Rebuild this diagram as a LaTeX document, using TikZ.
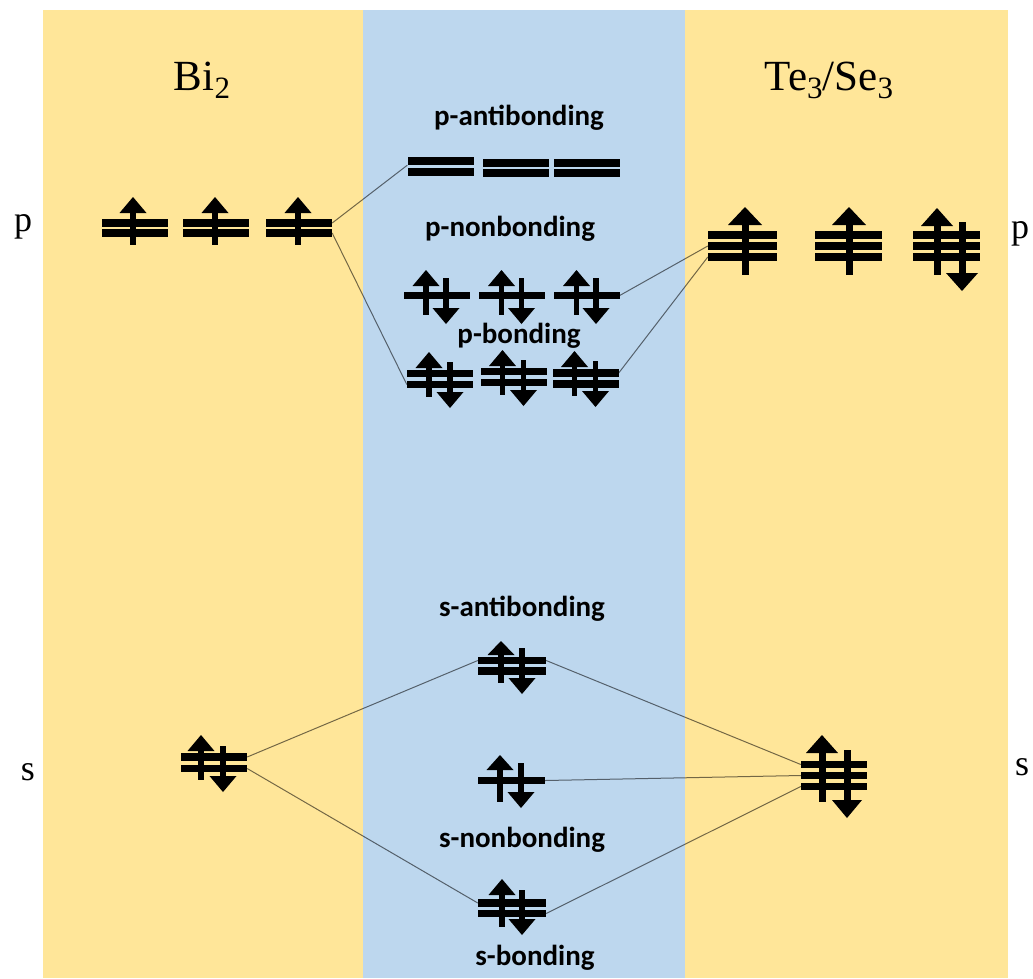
\documentclass[tikz,border=0pt]{standalone}
\usepackage{fontspec}
\setmainfont{Liberation Serif}
\newfontfamily\labelfont{Carlito}
\definecolor{panelyellow}{HTML}{FFE699}
\definecolor{panelblue}{HTML}{BDD7EE}
\newcommand\SubNum[1]{{\fontsize{31}{33}\selectfont\raisebox{-8pt}{#1}}}
\tikzset{
  bar/.style={rectangle, fill=black, draw=none, inner sep=0pt, minimum width=66pt, minimum height=7.5pt},
  mo/.style={font=\labelfont\bfseries\fontsize{29}{34}\selectfont, inner sep=0pt},
  ttl/.style={font=\fontsize{43}{48}\selectfont, inner sep=0pt, anchor=base},
  side/.style={font=\fontsize{36}{42}\selectfont, inner sep=0pt, anchor=base},
  link/.style={draw=black, draw opacity=0.55, line width=1pt}
}
% x, apex y, bottom y, head height, head half width, shaft half width
\newcommand\SpinUp[6]{%
  \fill (#1-#6,#2+#4-0.5) rectangle (#1+#6,#3);
  \fill (#1,#2) -- (#1+#5,#2+#4) -- (#1-#5,#2+#4) -- cycle;}
% x, top y, apex y, head height, head half width, shaft half width
\newcommand\SpinDown[6]{%
  \fill (#1-#6,#2) rectangle (#1+#6,#3-#4+0.5);
  \fill (#1,#3) -- (#1+#5,#3-#4) -- (#1-#5,#3-#4) -- cycle;}
\begin{document}
\begin{tikzpicture}[x=1pt,y=-1pt]
\useasboundingbox (0,0) rectangle (1033,978);
\fill[white] (0,0) rectangle (1033,978);
\fill[panelyellow] (43,10) rectangle (363,978);
\fill[panelblue] (363,10) rectangle (685,978);
\fill[panelyellow] (685,10) rectangle (1008,978);

% titles and side labels
\node[ttl] (bititle) at (202,90) {Bi\SubNum{2}};
\node[ttl] (tetitle) at (829,90) {Te\SubNum{3}/Se\SubNum{3}};
\node[side] (pleft) at (23,231) {p};
\node[side] (pright) at (1020,238) {p};
\node[side] (sleft) at (28,780) {s};
\node[side] (sright) at (1022,775) {s};

% MO labels
\node[mo] (lpab) at (519,118) {p-antibonding};
\node[mo] (lpnb) at (510,229) {p-nonbonding};
\node[mo] (lpb) at (519,336) {p-bonding};
\node[mo] (lsab) at (522,609) {s-antibonding};
\node[mo] (lsnb) at (522,840) {s-nonbonding};
\node[mo] (lsb) at (535,958) {s-bonding};

% ---- Bi2 p ----
\node[bar] (bip1a) at (135,223) {};
\node[bar] (bip1b) at (135,233) {};
\node[bar] (bip2a) at (215.5,223) {};
\node[bar] (bip2b) at (215.5,233) {};
\node[bar] (bip3a) at (299,223) {};
\node[bar] (bip3b) at (299,233) {};
\SpinUp{133}{197}{245}{16}{13.5}{2.7}
\SpinUp{215}{197}{245}{16}{13.5}{2.7}
\SpinUp{298}{197}{245}{16}{13.5}{2.7}

% ---- p-antibonding ----
\node[bar, minimum height=8pt] (pab1a) at (440.5,161) {};
\node[bar, minimum height=8pt] (pab1b) at (440.5,171.5) {};
\node[bar, minimum height=8pt] (pab2a) at (515.5,163) {};
\node[bar, minimum height=8pt] (pab2b) at (515.5,173) {};
\node[bar, minimum height=8pt] (pab3a) at (587,163) {};
\node[bar, minimum height=8pt] (pab3b) at (587,173) {};

% ---- p-nonbonding ----
\node[bar] (pn1) at (436.5,295.5) {};
\node[bar] (pn2) at (511.5,295.5) {};
\node[bar] (pn3) at (586.5,295.5) {};
\SpinUp{426}{270}{315}{16}{13.5}{2.7}
\SpinDown{446}{278}{324}{16}{13.5}{2.7}
\SpinUp{501.5}{270}{315}{16}{13.5}{2.7}
\SpinDown{521.5}{278}{324}{16}{13.5}{2.7}
\SpinUp{576.5}{270}{315}{16}{13.5}{2.7}
\SpinDown{596}{278}{324}{16}{13.5}{2.7}

% ---- p-bonding ----
\node[bar] (pb1a) at (440,373.5) {};
\node[bar] (pb1b) at (440,384.5) {};
\node[bar] (pb2a) at (513.5,371.5) {};
\node[bar] (pb2b) at (513.5,382.5) {};
\node[bar] (pb3a) at (585.5,373) {};
\node[bar] (pb3b) at (585.5,384) {};
\SpinUp{429}{352}{397}{16}{13.5}{2.7}
\SpinDown{450}{362}{408}{16}{13.5}{2.7}
\SpinUp{502.5}{350}{395}{16}{13.5}{2.7}
\SpinDown{523.5}{360}{406}{16}{13.5}{2.7}
\SpinUp{574.5}{351}{396}{16}{13.5}{2.7}
\SpinDown{595.5}{361}{407}{16}{13.5}{2.7}

% ---- Te3/Se3 p ----
\node[bar, minimum width=69pt] (tp1a) at (742.5,235) {};
\node[bar, minimum width=69pt] (tp1b) at (742.5,246) {};
\node[bar, minimum width=69pt] (tp1c) at (742.5,257) {};
\node[bar, minimum width=67pt] (tp2a) at (848.5,235) {};
\node[bar, minimum width=67pt] (tp2b) at (848.5,246) {};
\node[bar, minimum width=67pt] (tp2c) at (848.5,257) {};
\node[bar, minimum width=67pt] (tp3a) at (946.5,235) {};
\node[bar, minimum width=67pt] (tp3b) at (946.5,246) {};
\node[bar, minimum width=67pt] (tp3c) at (946.5,257) {};
\SpinUp{745}{207}{275}{18}{17}{3.5}
\SpinUp{849}{207}{275}{18}{17}{3.5}
\SpinUp{937}{208}{275}{18}{16}{3.5}
\SpinDown{962}{222}{291}{18}{16}{3.5}

% ---- Bi2 s ----
\node[bar] (bisa) at (214,757) {};
\node[bar] (bisb) at (214,768.5) {};
\SpinUp{201}{735}{780}{16}{13.5}{2.7}
\SpinDown{223}{746}{792}{16}{13.5}{2.7}

% ---- s-antibonding ----
\node[bar, minimum width=68pt] (saba) at (512,660.5) {};
\node[bar, minimum width=68pt] (sabb) at (512,671) {};
\SpinUp{501}{641}{683}{14}{13.5}{2.7}
\SpinDown{522}{648}{694}{16}{13.5}{2.7}

% ---- s-nonbonding ----
\node[bar, minimum width=67pt] (snb) at (511.5,780.5) {};
\SpinUp{500}{755}{802}{15}{13.5}{2.7}
\SpinDown{521}{763}{808}{16}{13.5}{2.7}

% ---- s-bonding ----
\node[bar, minimum width=68pt] (sba) at (512,903) {};
\node[bar, minimum width=68pt] (sbb) at (512,913.5) {};
\SpinUp{502}{879}{927}{16}{13.5}{2.7}
\SpinDown{522}{890}{935}{16}{13.5}{2.7}

% ---- Te3/Se3 s ----
\node[bar] (tsa) at (834,764.5) {};
\node[bar] (tsb) at (834,775.5) {};
\node[bar] (tsc) at (834,786.5) {};
\SpinUp{822}{735}{802}{18}{16}{3.5}
\SpinDown{847}{750}{818}{18}{15}{3.5}

% ---- connectors ----
\draw[link] (bip3a.east) -- (pab1a.south west);
\draw[link] (bip3b.east) -- (pb1b.west);
\draw[link] (tp1b.west) -- (pn3.east);
\draw[link] (tp1c.west) -- (pb3a.east);
\draw[link] (bisa.east) -- (saba.west);
\draw[link] (bisb.east) -- (sba.west);
\draw[link] (saba.east) -- (tsa.west);
\draw[link] (snb.east) -- (tsb.west);
\draw[link] (sbb.east) -- (tsc.west);
\end{tikzpicture}
\end{document}
